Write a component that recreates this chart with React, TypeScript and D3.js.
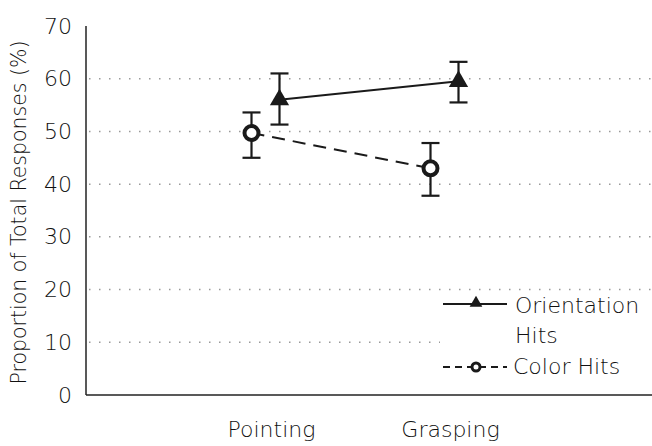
import * as d3 from "d3";

const categories = ["Pointing", "Grasping"];
const orientationMean = [56, 59.5];
const orientationLow = [51.3, 55.5];
const orientationHigh = [61, 63.2];
const colorMean = [49.7, 43];
const colorLow = [45, 37.8];
const colorHigh = [53.6, 47.8];
const yTicks = [0, 10, 20, 30, 40, 50, 60, 70];

const font = "'DejaVu Sans', sans-serif";

export default function App() {
  const width = 652;
  const height = 446;
  const left = 86;
  const top = 26;
  const bottom = 395;

  const x = d3.scaleBand().domain(categories).range([176, 534]);
  const y = d3.scaleLinear().domain([0, 70]).range([bottom, top]);
  const cx = (c: string) => (x(c) ?? 0) + x.bandwidth() / 2;
  const off = 14;

  const line = d3.line<[number, number]>().x((d) => d[0]).y((d) => d[1]);
  const oriPts: [number, number][] = categories.map((c, i) => [cx(c) + off, y(orientationMean[i])]);
  const colPts: [number, number][] = categories.map((c, i) => [cx(c) - off, y(colorMean[i])]);
  const tri = d3.symbol(d3.symbolTriangle, 160)();

  const errBar = (px: number, lo: number, hi: number, key: string) => (
    <g key={key} stroke="#1a1a1a" strokeWidth={2.2}>
      <line x1={px} x2={px} y1={y(lo)} y2={y(hi)} />
      <line x1={px - 9} x2={px + 9} y1={y(lo)} y2={y(lo)} />
      <line x1={px - 9} x2={px + 9} y1={y(hi)} y2={y(hi)} />
    </g>
  );

  const txt = { fontFamily: font, fontSize: 22, fill: "#111", fontWeight: 300 } as const;

  return (
    <svg width={width} height={height} style={{ position: "absolute", left: 0, top: 0 }}>
      <rect width={width} height={height} fill="white" />
      {yTicks.filter((t) => t > 0 && t < 70).map((t) => (
        <line key={t} x1={left + 3} x2={t === 10 ? 440 : 652} y1={y(t)} y2={y(t)}
          stroke="#999" strokeWidth={1.5} strokeDasharray="1.5 8.5" />
      ))}
      <line x1={left} x2={left} y1={top} y2={bottom} stroke="#222" strokeWidth={1.5} />
      <line x1={left} x2={652} y1={bottom} y2={bottom} stroke="#222" strokeWidth={1.5} />
      {yTicks.map((t) => (
        <text key={t} x={72} y={y(t)} textAnchor="end" dominantBaseline="central" {...txt}>{t}</text>
      ))}
      {categories.map((c) => (
        <text key={c} x={cx(c) + 6} y={437} textAnchor="middle" {...txt}>{c}</text>
      ))}
      <text transform={`translate(26,${(top + bottom) / 2 + 2}) rotate(-90)`} textAnchor="middle"
        {...txt} fontSize={20.5}>
        Proportion of Total Responses (%)
      </text>

      <path d={line(colPts) ?? ""} fill="none" stroke="#1a1a1a" strokeWidth={2} strokeDasharray="13 8" />
      <path d={line(oriPts) ?? ""} fill="none" stroke="#1a1a1a" strokeWidth={2} />
      {categories.map((c, i) => errBar(cx(c) + off, orientationLow[i], orientationHigh[i], "oe" + i))}
      {categories.map((c, i) => errBar(cx(c) - off, colorLow[i], colorHigh[i], "ce" + i))}
      {oriPts.map((p, i) => (
        <path key={"ot" + i} d={tri ?? ""} transform={`translate(${p[0]},${p[1]})`} fill="#1a1a1a" />
      ))}
      {colPts.map((p, i) => (
        <circle key={"cc" + i} cx={p[0]} cy={p[1]} r={7} fill="white" stroke="#1a1a1a" strokeWidth={4} />
      ))}

      <rect x={441} y={294} width={211} height={86} fill="white" />
      <line x1={443} x2={507} y1={304} y2={304} stroke="#1a1a1a" strokeWidth={2} />
      <path d={d3.symbol(d3.symbolTriangle, 70)() ?? ""} transform="translate(476,303)" fill="#1a1a1a" />
      <text x={515} y={313} {...txt}>Orientation</text>
      <text x={515} y={343} {...txt}>Hits</text>
      <line x1={443} x2={507} y1={367} y2={367} stroke="#1a1a1a" strokeWidth={2} strokeDasharray="7 5" />
      <circle cx={476} cy={367} r={4} fill="white" stroke="#1a1a1a" strokeWidth={3} />
      <text x={513} y={374} {...txt}>Color Hits</text>
    </svg>
  );
}
